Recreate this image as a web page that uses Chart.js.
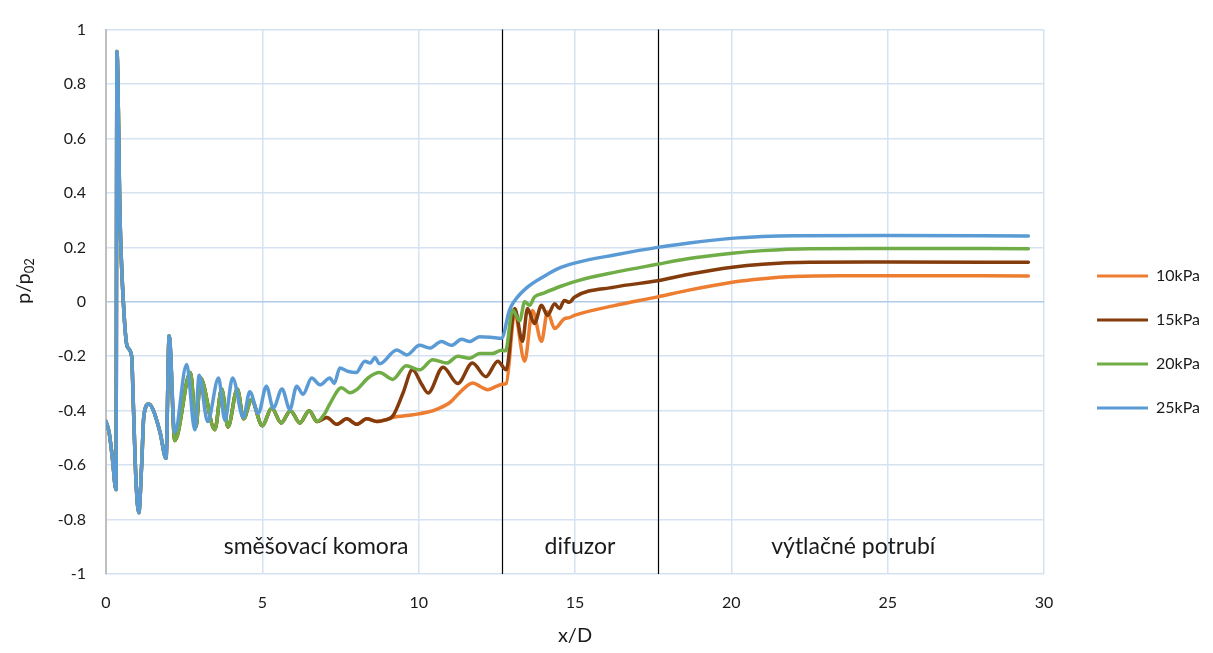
<!DOCTYPE html>
<html>
<head>
<meta charset="utf-8">
<script src="https://cdn.jsdelivr.net/npm/chart.js@4.4.1/dist/chart.umd.min.js"></script>
<style>
  html, body { margin: 0; padding: 0; background: #fff; }
  #wrap { width: 1213px; height: 653px; position: relative; }
</style>
</head>
<body>
<div id="wrap"><canvas id="myChart"></canvas></div>
<script>
// shared start, all four series
const headX = [0, 0.1, 0.2, 0.32, 0.35, 0.45, 0.58, 0.68, 0.82, 0.87, 0.96, 1.05, 1.14, 1.21, 1.37, 1.5, 1.73, 1.92, 2.02];
const headP = [-0.44, -0.48, -0.57, -0.69, 0.92, 0.3, -0.05, -0.165, -0.2, -0.36, -0.66, -0.775, -0.6, -0.42, -0.375, -0.395, -0.48, -0.575, -0.125];

// waves shared by 10, 15 and 20 kPa
const wavesX = [2.2, 2.7, 2.88, 3.02, 3.48, 3.7, 3.9, 4.2, 4.4, 4.65, 5.0, 5.3, 5.6, 5.9, 6.2, 6.5, 6.75];
const wavesP = [-0.51, -0.26, -0.46, -0.28, -0.47, -0.32, -0.46, -0.32, -0.43, -0.36, -0.455, -0.39, -0.445, -0.4, -0.445, -0.4, -0.44];

// low part shared by 10 and 15 kPa
const lowX = [7.06, 7.38, 7.7, 8.02, 8.34, 8.66, 8.9];
const lowP = [-0.425, -0.45, -0.43, -0.45, -0.43, -0.44, -0.435];

const x10 = [9.17, 9.82, 10.3, 10.57, 11.0, 11.3, 11.73, 12.0, 12.2, 12.5, 12.68, 12.8, 13.07, 13.39, 13.64, 13.93, 14.12, 14.35, 14.66, 14.82, 14.98, 16.26, 17.64, 18.6, 20.03, 21, 22, 23.5, 29.5];
const p10 = [-0.425, -0.415, -0.405, -0.395, -0.37, -0.335, -0.298, -0.313, -0.323, -0.31, -0.303, -0.3, -0.045, -0.218, -0.032, -0.145, -0.037, -0.098, -0.062, -0.058, -0.05, -0.014, 0.018, 0.042, 0.072, 0.085, 0.093, 0.096, 0.095];

const x15 = [9.17, 9.5, 9.8, 10.1, 10.3, 10.78, 11.25, 11.72, 12.15, 12.53, 12.8, 13.07, 13.32, 13.48, 13.7, 13.93, 14.12, 14.35, 14.5, 14.66, 14.82, 14.98, 16.26, 17.64, 18.6, 20.03, 21, 22.5, 25, 29.5];
const p15 = [-0.42, -0.335, -0.25, -0.304, -0.335, -0.24, -0.3, -0.225, -0.275, -0.218, -0.25, -0.025, -0.145, -0.025, -0.08, -0.013, -0.05, -0.007, -0.025, 0.005, -0.002, 0.017, 0.054, 0.077, 0.1, 0.127, 0.138, 0.145, 0.146, 0.145];

const x20 = [7.0, 7.16, 7.53, 7.8, 8.05, 8.38, 8.75, 9.17, 9.6, 10.03, 10.45, 10.9, 11.25, 11.63, 11.95, 12.36, 12.65, 12.78, 13.0, 13.23, 13.39, 13.55, 13.7, 14.0, 14.57, 15.1, 16.26, 17.64, 18.6, 20.03, 21, 22.5, 25, 29.5];
const p20 = [-0.41, -0.375, -0.316, -0.334, -0.32, -0.28, -0.26, -0.285, -0.235, -0.25, -0.213, -0.225, -0.2, -0.207, -0.19, -0.19, -0.178, -0.18, -0.03, -0.07, 0.0, -0.013, 0.017, 0.032, 0.058, 0.078, 0.108, 0.138, 0.158, 0.178, 0.188, 0.195, 0.196, 0.195];

const x25 = [2.2, 2.58, 2.84, 2.98, 3.25, 3.6, 3.8, 4.05, 4.39, 4.6, 4.87, 5.13, 5.35, 5.63, 5.88, 6.1, 6.3, 6.58, 6.84, 7.16, 7.3, 7.48, 7.73, 8.0, 8.28, 8.45, 8.6, 8.75, 9.3, 9.62, 10.03, 10.35, 10.73, 11.05, 11.37, 11.63, 11.95, 12.3, 12.65, 12.9, 13.07, 13.48, 14.03, 14.57, 15.08, 16.26, 17.64, 18.6, 20.0, 21, 22, 25, 29.5];
const p25 = [-0.48, -0.23, -0.47, -0.27, -0.44, -0.28, -0.435, -0.28, -0.425, -0.33, -0.41, -0.31, -0.39, -0.32, -0.395, -0.31, -0.34, -0.28, -0.305, -0.28, -0.3, -0.243, -0.255, -0.26, -0.218, -0.225, -0.205, -0.228, -0.177, -0.195, -0.16, -0.17, -0.146, -0.16, -0.138, -0.146, -0.128, -0.13, -0.134, -0.032, 0.004, 0.054, 0.095, 0.127, 0.145, 0.172, 0.2, 0.215, 0.233, 0.24, 0.243, 0.244, 0.242];

const seriesNames = ["10kPa", "15kPa", "20kPa", "25kPa"];
const seriesColors = ["#ED7D31", "#843C0C", "#70AD47", "#5B9BD5"];

const xTicks = [0, 5, 10, 15, 20, 25, 30];
const sectionLines = [12.68, 17.64];
const sectionNames = ["směšovací komora", "difuzor", "výtlačné potrubí"];
const sectionNameX = [6.72, 15.16, 23.9];
const sectionNameY = -0.9;

const toPoints = (xs, ps) => xs.map((x, i) => ({ x: x, y: ps[i] }));

const seriesData = [
  toPoints([...headX, ...wavesX, ...lowX, ...x10], [...headP, ...wavesP, ...lowP, ...p10]),
  toPoints([...headX, ...wavesX, ...lowX, ...x15], [...headP, ...wavesP, ...lowP, ...p15]),
  toPoints([...headX, ...wavesX, ...x20], [...headP, ...wavesP, ...p20]),
  toPoints([...headX, ...x25], [...headP, ...p25]),
];

const FONT = "Lato";
const TEXT = "#1a1a1a";

const sectionsPlugin = {
  id: "sections",
  beforeDatasetsDraw(chart) {
    const { ctx, chartArea, scales } = chart;
    ctx.save();
    ctx.strokeStyle = "#000";
    ctx.lineWidth = 1.2;
    sectionLines.forEach((v) => {
      const px = Math.round(scales.x.getPixelForValue(v)) + 0.5;
      ctx.beginPath();
      ctx.moveTo(px, chartArea.top);
      ctx.lineTo(px, chartArea.bottom);
      ctx.stroke();
    });
    ctx.fillStyle = TEXT;
    ctx.font = "23px " + FONT;
    ctx.textAlign = "center";
    ctx.textBaseline = "middle";
    sectionNames.forEach((name, i) => {
      ctx.fillText(name, scales.x.getPixelForValue(sectionNameX[i]), scales.y.getPixelForValue(sectionNameY));
    });
    ctx.restore();
  },
};

// y title with subscript
const yTitlePlugin = {
  id: "yTitle",
  afterDraw(chart) {
    const ctx = chart.ctx;
    ctx.save();
    ctx.translate(24, 281);
    ctx.rotate(-Math.PI / 2);
    ctx.fillStyle = TEXT;
    ctx.textBaseline = "alphabetic";
    ctx.font = "20px " + FONT;
    const w1 = ctx.measureText("p/p").width;
    ctx.font = "13px " + FONT;
    const w2 = ctx.measureText("02").width;
    const start = -(w1 + w2) / 2;
    ctx.font = "20px " + FONT;
    ctx.fillText("p/p", start, 6);
    ctx.font = "13px " + FONT;
    ctx.fillText("02", start + w1, 10);
    ctx.restore();
  },
};

new Chart(document.getElementById("myChart"), {
  type: "line",
  data: {
    datasets: seriesData.map((pts, i) => ({
      label: seriesNames[i],
      data: pts,
      borderColor: seriesColors[i],
      backgroundColor: seriesColors[i],
      borderWidth: 3.5,
      borderCapStyle: "round",
      borderJoinStyle: "round",
      pointRadius: 0,
      cubicInterpolationMode: "monotone",
      order: 4 - i,
    })),
  },
  options: {
    responsive: true,
    maintainAspectRatio: false,
    animation: false,
    layout: { padding: { right: 3 } },
    scales: {
      x: {
        type: "linear",
        min: 0,
        max: 30,
        afterBuildTicks: (scale) => {
          scale.ticks = xTicks.map((v) => ({ value: v }));
        },
        grid: { color: "#d5e2f2", lineWidth: 1.5, drawTicks: false },
        border: { display: false },
        ticks: { color: TEXT, font: { family: FONT, size: 16 }, padding: 19, maxRotation: 0 },
        title: { display: true, text: "x/D", color: TEXT, font: { family: FONT, size: 20 }, padding: { top: 0, bottom: 5 } },
        afterFit: (scale) => { scale.height = 79; },
      },
      y: {
        min: -1,
        max: 1,
        ticks: {
          stepSize: 0.2,
          color: TEXT,
          font: { family: FONT, size: 16 },
          padding: 20,
          callback: (v) => String(parseFloat(v.toFixed(1))),
        },
        grid: {
          drawTicks: false,
          lineWidth: 1.5,
          color: (c) => (c.tick && Math.abs(c.tick.value) < 1e-9 ? "#b0cae8" : "#d5e2f2"),
        },
        border: { color: "#bfbfbf", width: 2 },
        afterFit: (scale) => { scale.width = 106; },
      },
      gap: {
        type: "linear",
        position: "right",
        display: true,
        grid: { display: false, drawTicks: false },
        border: { display: false },
        ticks: { display: false },
        afterFit: (scale) => {
          const lw = scale.chart.legend ? scale.chart.legend.width : 0;
          scale.width = Math.max(0, 1213 - 3 - 1044 - lw);
        },
      },
    },
    plugins: {
      legend: {
        position: "right",
        align: "start",
        title: { display: true, text: " ", font: { size: 12 }, padding: { top: 227.6, bottom: 0 } },
        labels: {
          boxWidth: 51,
          boxHeight: 3,
          padding: 26,
          color: TEXT,
          font: { family: FONT, size: 16, lineHeight: 18 / 16 },
          sort: (a, b) => a.datasetIndex - b.datasetIndex,
          generateLabels: (chart) =>
            Chart.defaults.plugins.legend.labels.generateLabels(chart).map((item) => ({
              ...item,
              text: [item.text],
              fillStyle: item.strokeStyle,
              lineWidth: 0,
            })),
        },
      },
      tooltip: { enabled: false },
    },
  },
  plugins: [sectionsPlugin, yTitlePlugin],
});
</script>
</body>
</html>
